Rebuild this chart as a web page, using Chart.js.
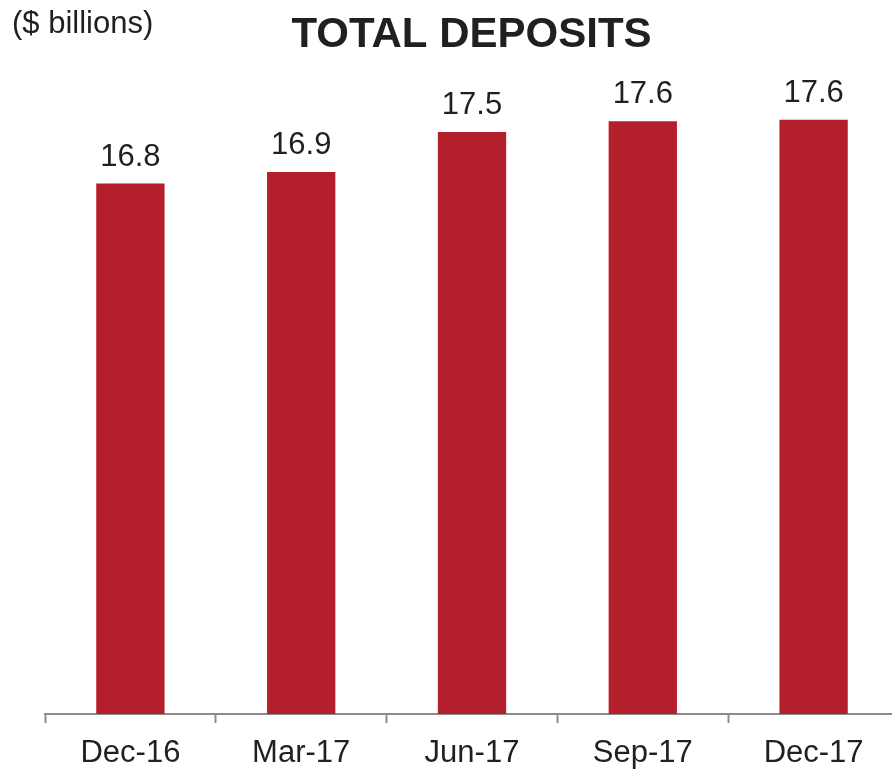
<!DOCTYPE html>
<html>
<head>
<meta charset="utf-8">
<script src="https://cdn.jsdelivr.net/npm/chart.js@4/dist/chart.umd.min.js"></script>
<style>
    html, body { margin: 0; padding: 0; background: #fff; overflow: hidden; }
    #depositsChart { position: absolute; left: 0; top: 0; }
</style>
</head>
<body>
<canvas id="depositsChart" width="899" height="770"></canvas>
<script>
// --- Chart data ---
const quarters = ['Dec-16', 'Mar-17', 'Jun-17', 'Sep-17', 'Dec-17'];
const deposits = [16.80, 16.95, 17.46, 17.60, 17.62];
const depositLabels = ['16.8', '16.9', '17.5', '17.6', '17.6'];

const textColor = '#231f20';
const barColor = '#b31f2a';
const axisColor = '#8c8c8c';
const fontFamily = '"Liberation Sans", Arial, Helvetica, sans-serif';

// draws the value above each bar plus the title and unit note
const labelPlugin = {
    id: 'depositLabels',
    afterDatasetsDraw(chart) {
        const ctx = chart.ctx;
        const bars = chart.getDatasetMeta(0).data;
        ctx.save();
        ctx.fillStyle = textColor;
        ctx.textAlign = 'center';
        ctx.textBaseline = 'alphabetic';
        ctx.font = '31px ' + fontFamily;
        bars.forEach(function(bar, i) {
            ctx.fillText(depositLabels[i], bar.x, bar.y - 18);
        });

        ctx.font = 'bold 42px ' + fontFamily;
        ctx.fillText('TOTAL DEPOSITS', 471.5, 46.5);

        ctx.textAlign = 'left';
        ctx.font = '31px ' + fontFamily;
        ctx.fillText('($ billions)', 12, 32.5);
        ctx.restore();
    }
};

const ctx = document.getElementById('depositsChart').getContext('2d');
const depositsChart = new Chart(ctx, {
    type: 'bar',
    data: {
        labels: quarters,
        datasets: [{
            label: 'Total Deposits',
            data: deposits,
            backgroundColor: barColor,
            borderWidth: 0,
            barPercentage: 0.4,
            categoryPercentage: 1.0
        }]
    },
    options: {
        responsive: false,
        animation: false,
        layout: {
            padding: { left: 45, right: 0, top: 90, bottom: 0 }
        },
        plugins: {
            legend: { display: false },
            tooltip: { enabled: false }
        },
        scales: {
            x: {
                afterFit: function(scale) { scale.height = 56; },
                grid: {
                    display: true,
                    offset: true,
                    drawOnChartArea: false,
                    drawTicks: true,
                    tickLength: 9,
                    tickWidth: 2,
                    color: axisColor
                },
                border: { display: true, color: axisColor, width: 2 },
                ticks: {
                    color: textColor,
                    padding: 12,
                    font: { family: fontFamily, size: 31 }
                }
            },
            y: {
                display: false,
                min: 10,
                max: 18
            }
        }
    },
    plugins: [labelPlugin]
});
</script>
</body>
</html>
